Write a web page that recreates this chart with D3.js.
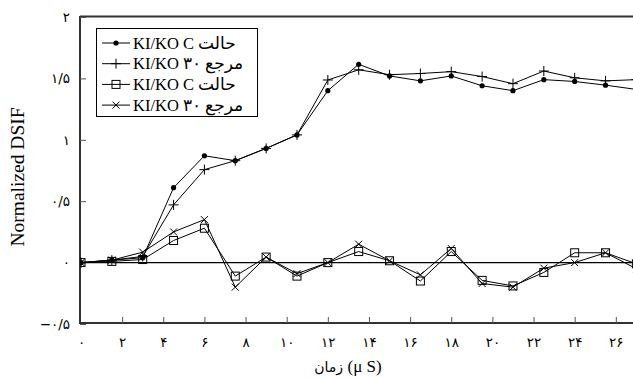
<!DOCTYPE html>
<html><head><meta charset="utf-8">
<script src="https://cdn.jsdelivr.net/npm/d3@7"></script>
<style>body{margin:0;background:#fff}svg{display:block}</style>
</head><body>
<script>
// time (µs), step 1.5
const times = [0,1.5,3,4.5,6,7.5,9,10.5,12,13.5,15,16.5,18,19.5,21,22.5,24,25.5,27];
const seriesDot    = [0,0.02,0.04,0.61,0.87,0.83,0.93,1.04,1.40,1.615,1.52,1.48,1.52,1.44,1.40,1.49,1.475,1.445,1.41];
const seriesPlus   = [0,0.02,0.05,0.47,0.757,0.83,0.93,1.04,1.487,1.57,1.53,1.54,1.555,1.515,1.457,1.56,1.505,1.48,1.49];
const seriesSquare = [0,0.01,0.025,0.18,0.28,-0.11,0.045,-0.11,0.0,0.09,0.015,-0.15,0.09,-0.145,-0.19,-0.08,0.08,0.08,-0.01];
const seriesX      = [0,0.02,0.085,0.25,0.35,-0.20,0.045,-0.09,0.0,0.15,0.015,-0.10,0.115,-0.17,-0.20,-0.045,0.0,0.08,-0.05];
const legendLatin  = ["KI/KO C ","KI/KO ۳۰ ","KI/KO C ","KI/KO ۳۰ "];
const legendPersian= ["حالت","مرجع","حالت","مرجع"];
const xTicks = [0,2,4,6,8,10,12,14,16,18,20,22,24,26];
const yTicks = [-0.5,0,0.5,1,1.5,2];
const xTitleFa = "زمان ";
const xTitleUnit = "(μ S)";
const yTitle = "Normalized DSIF";

const W=633,H=378;
const svg=d3.select("body").append("svg").attr("width",W).attr("height",H);
const x=d3.scaleLinear().domain([0,27]).range([81,81+27*20.57]);
const y=d3.scaleLinear().domain([-0.5,2]).range([324,17]);

const fa = n => {
  const s = String(Math.abs(n)).replace(".", "/").replace(/[0-9]/g, d => "۰۱۲۳۴۵۶۷۸۹"[+d]);
  return n<0 ? "−"+s : s;
};

svg.append("defs").append("clipPath").attr("id","clip")
  .append("rect").attr("x",80).attr("y",16).attr("width",W-80).attr("height",310);

// zero line
svg.append("line").attr("x1",80).attr("x2",W).attr("y1",y(0)).attr("y2",y(0))
  .attr("stroke","#000").attr("stroke-width",1.2);

// frame: top line
svg.append("line").attr("x1",80).attr("x2",W).attr("y1",16.5).attr("y2",16.5)
  .attr("stroke","#333").attr("stroke-width",2);

// x axis
const xa=svg.append("g").attr("transform","translate(0,323)")
  .call(d3.axisBottom(x).tickValues(xTicks).tickSizeInner(-6).tickSizeOuter(0).tickPadding(14).tickFormat(fa));
xa.select(".domain").attr("d",`M80,0H${W}`).attr("stroke","#333").attr("stroke-width",2);
xa.selectAll(".tick line").attr("stroke","#555");
xa.selectAll(".tick").filter(d=>d===0).select("line").remove();
xa.selectAll("text").attr("font-family","DejaVu Sans").attr("font-size",13.5).attr("fill","#000");

// y axis
const ya=svg.append("g").attr("transform","translate(80,0)")
  .call(d3.axisLeft(y).tickValues(yTicks).tickSizeInner(-6).tickSizeOuter(0).tickPadding(10).tickFormat(fa));
ya.select(".domain").attr("d","M0,16V324").attr("stroke","#333").attr("stroke-width",2);
ya.selectAll(".tick line").attr("stroke","#555");
ya.selectAll("text").attr("font-family","DejaVu Sans").attr("font-size",13.5).attr("fill","#000");

// titles
const xt=svg.append("text").attr("x",348).attr("y",372).attr("text-anchor","middle")
  .attr("font-family","DejaVu Sans").attr("font-size",14).attr("direction","ltr");
xt.append("tspan").text(xTitleFa);
xt.append("tspan").attr("font-family","Liberation Serif").attr("font-size",17).text(xTitleUnit);
svg.append("text").attr("transform","translate(24,177) rotate(-90)").attr("text-anchor","middle")
  .attr("font-family","Liberation Serif").attr("font-size",19.5).text(yTitle);

const series=[seriesDot,seriesPlus,seriesSquare,seriesX];
const markerTypes=["dot","plus","square","x"];
const line=d3.line().x((d,i)=>x(times[i])).y(d=>y(d));
const plot=svg.append("g").attr("clip-path","url(#clip)");

function drawMarker(g,type){
  if(type==="dot") g.append("circle").attr("r",2.6).attr("fill","#000");
  else if(type==="plus") g.append("path").attr("d","M-5,0H5M0,-5V5").attr("stroke","#000").attr("stroke-width",1).attr("fill","none");
  else if(type==="square") g.append("rect").attr("x",-4).attr("y",-4).attr("width",8).attr("height",8).attr("fill","none").attr("stroke","#000").attr("stroke-width",1);
  else g.append("path").attr("d","M-3.5,-3.5L3.5,3.5M-3.5,3.5L3.5,-3.5").attr("stroke","#000").attr("stroke-width",1).attr("fill","none");
}

series.forEach((s,k)=>{
  plot.append("path").datum(s).attr("d",line).attr("fill","none").attr("stroke","#000").attr("stroke-width",1);
  s.forEach((v,i)=>{
    const g=plot.append("g").attr("transform",`translate(${x(times[i])},${y(v)})`);
    drawMarker(g,markerTypes[k]);
  });
});

// legend
const lg=svg.append("g");
lg.append("rect").attr("x",96.5).attr("y",28.5).attr("width",161).attr("height",88)
  .attr("fill","#fff").attr("stroke","#000").attr("stroke-width",1);
legendLatin.forEach((t,k)=>{
  const cy=43+k*20.7;
  lg.append("line").attr("x1",102).attr("x2",130).attr("y1",cy).attr("y2",cy).attr("stroke","#000");
  drawMarker(lg.append("g").attr("transform",`translate(116,${cy})`),markerTypes[k]);
  const tx=lg.append("text").attr("x",133).attr("y",cy+5.5).attr("direction","ltr")
    .attr("font-family","Liberation Serif").attr("font-weight","normal").attr("font-size",16.5);
  tx.append("tspan").text(t);
  tx.append("tspan").attr("font-family","DejaVu Sans").attr("font-size",17).text(legendPersian[k]);
});
</script>
</body></html>
